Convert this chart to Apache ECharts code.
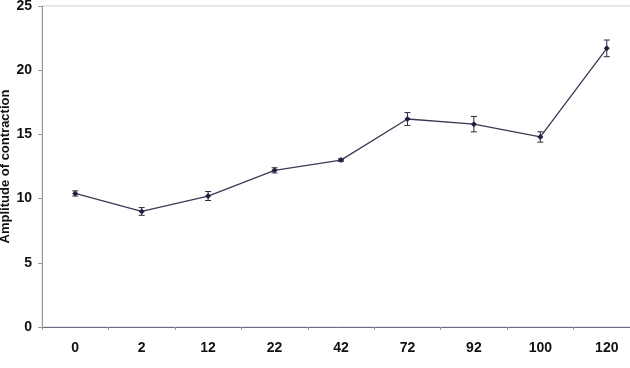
<!DOCTYPE html>
<html>
<head>
<meta charset="utf-8">
<script src="https://cdn.jsdelivr.net/npm/echarts@6/dist/echarts.min.js"></script>
<style>html,body{margin:0;padding:0;background:#fff;}#c{width:630px;height:368px;}</style>
</head>
<body>
<div id="c"></div>
<script>
var categories = ['0', '2', '12', '22', '42', '72', '92', '100', '120'];
var values = [10.4, 9.0, 10.2, 12.2, 13.0, 16.2, 15.8, 14.8, 21.7];
var errors = [0.2, 0.3, 0.35, 0.2, 0.1, 0.5, 0.6, 0.4, 0.65];
var yTicks = [0, 5, 10, 15, 20, 25];

var errData = values.map(function (v, i) { return [i, v - errors[i], v + errors[i]]; });

var chart = echarts.init(document.getElementById('c'));
chart.setOption({
  animation: false,
  backgroundColor: '#fff',
  grid: { left: 42, top: 6, bottom: 41, width: 598, containLabel: false, outerBoundsMode: 'none', show: true, borderColor: '#d0d0d0', borderWidth: 1, backgroundColor: 'transparent' },
  xAxis: {
    type: 'category',
    data: categories,
    boundaryGap: true,
    axisLine: { lineStyle: { color: '#6a6a80', width: 1 } },
    axisTick: { show: true, length: 3, lineStyle: { color: '#999' } },
    axisLabel: { color: '#111', fontFamily: 'Liberation Sans, Arial', fontWeight: 'bold', fontSize: 14, margin: 14 }
  },
  yAxis: {
    type: 'value',
    min: yTicks[0], max: yTicks[yTicks.length - 1], interval: 5,
    name: 'Amplitude of contraction',
    nameLocation: 'middle',
    nameGap: 30,
    nameMoveOverlap: false,
    nameTextStyle: { color: '#111', fontFamily: 'Liberation Sans, Arial', fontWeight: 'bold', fontSize: 13 },
    axisLine: { show: true, lineStyle: { color: '#999', width: 1 } },
    axisTick: { show: true, length: 4, lineStyle: { color: '#999' } },
    axisLabel: { color: '#111', fontFamily: 'Liberation Sans, Arial', fontWeight: 'bold', fontSize: 14, margin: 10 },
    splitLine: { show: false }
  },
  series: [
    {
      type: 'line',
      data: values,
      symbol: 'diamond',
      symbolSize: 6,
      itemStyle: { color: '#1a1a40' },
      lineStyle: { color: '#3a3a55', width: 1.3 },
      z: 3
    },
    {
      type: 'custom',
      data: errData,
      z: 4,
      renderItem: function (params, api) {
        var x = api.value(0);
        var lo = api.coord([x, api.value(1)]);
        var hi = api.coord([x, api.value(2)]);
        var hw = 3;
        var style = { stroke: '#2a2a45', lineWidth: 1, fill: null };
        return {
          type: 'group',
          children: [
            { type: 'line', shape: { x1: lo[0], y1: lo[1], x2: hi[0], y2: hi[1] }, style: style },
            { type: 'line', shape: { x1: lo[0] - hw, y1: lo[1], x2: lo[0] + hw, y2: lo[1] }, style: style },
            { type: 'line', shape: { x1: hi[0] - hw, y1: hi[1], x2: hi[0] + hw, y2: hi[1] }, style: style }
          ]
        };
      }
    }
  ]
});
</script>
</body>
</html>
